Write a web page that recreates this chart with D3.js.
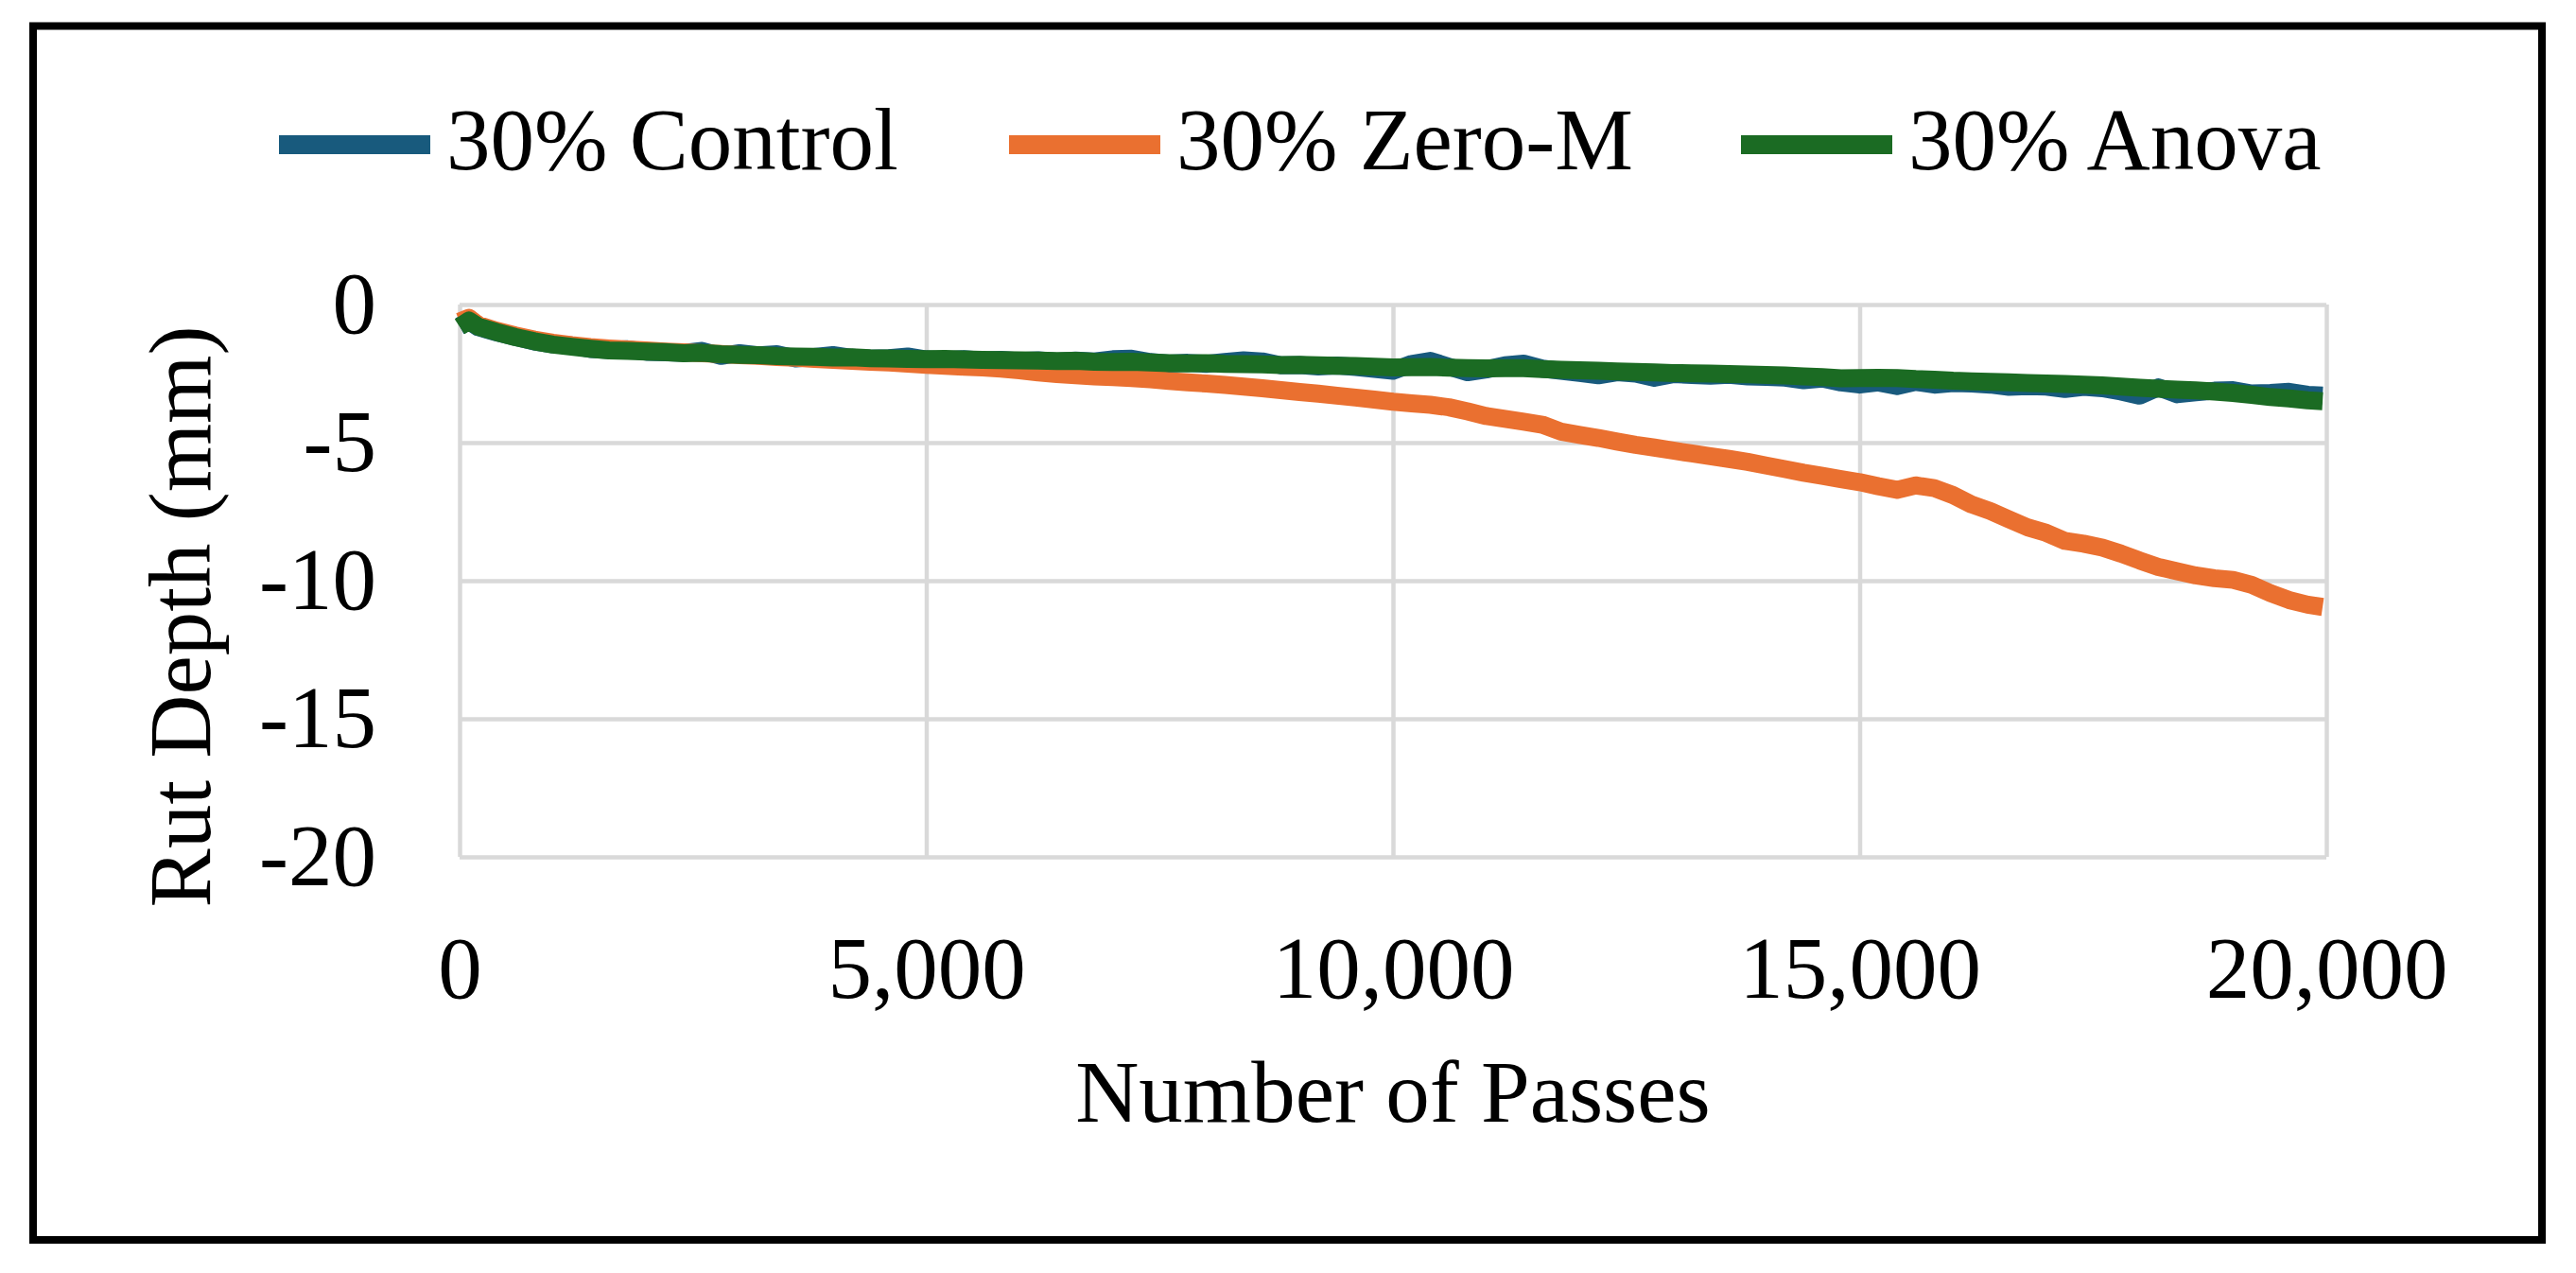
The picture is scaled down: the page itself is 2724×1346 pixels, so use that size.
<!DOCTYPE html>
<html>
<head>
<meta charset="utf-8">
<script src="https://cdn.jsdelivr.net/npm/d3@7"></script>
<style>
  body { margin: 0; background: #ffffff; }
</style>
</head>
<body>
<div id="plot"></div>
<script>
// number of passes (shared by all series)
const passes = [
  0, 100,
  200, 400, 600, 800, 1000, 1200, 1400, 1600, 1800, 2000,
  2200, 2400, 2600, 2800, 3000, 3200, 3400, 3600, 3800, 4000,
  4200, 4400, 4600, 4800, 5000, 5200, 5400, 5600, 5800, 6000,
  6200, 6400, 6600, 6800, 7000, 7200, 7400, 7600, 7800, 8000,
  8200, 8400, 8600, 8800, 9000, 9200, 9400, 9600, 9800, 10000,
  10200, 10400, 10600, 10800, 11000, 11200, 11400, 11600, 11800, 12000,
  12200, 12400, 12600, 12800, 13000, 13200, 13400, 13600, 13800, 14000,
  14200, 14400, 14600, 14800, 15000, 15200, 15400, 15600, 15800, 16000,
  16200, 16400, 16600, 16800, 17000, 17200, 17400, 17600, 17800, 18000,
  18200, 18400, 18600, 18800, 19000, 19200, 19400, 19600, 19800,
  19960
]

// rut depth (mm)
const control = [
  -0.78, -0.60,
  -0.82, -1.01, -1.17, -1.34, -1.44, -1.48, -1.61, -1.64, -1.62, -1.71,
  -1.73, -1.75, -1.68, -1.86, -1.76, -1.84, -1.80, -1.95, -1.90, -1.83,
  -1.93, -1.96, -1.94, -1.88, -1.99, -2.02, -1.98, -2.03, -2.00, -2.05,
  -2.02, -2.07, -2.03, -2.06, -1.98, -1.96, -2.08, -2.14, -2.11, -2.15,
  -2.08, -2.02, -2.06, -2.20, -2.19, -2.24, -2.21, -2.26, -2.33, -2.40,
  -2.15, -2.04, -2.25, -2.45, -2.35, -2.20, -2.14, -2.32, -2.40, -2.48,
  -2.56, -2.45, -2.50, -2.65, -2.52, -2.55, -2.58, -2.54, -2.60, -2.62,
  -2.65, -2.74, -2.68, -2.82, -2.90, -2.82, -2.95, -2.80, -2.90, -2.84,
  -2.86, -2.90, -2.98, -2.95, -2.97, -3.06, -2.98, -3.03, -3.15, -3.30,
  -3.00, -3.25, -3.18, -3.12, -3.10, -3.22, -3.20, -3.16, -3.27,
  -3.30
]

const zeroM = [
  -0.62, -0.48,
  -0.74, -0.95, -1.12, -1.27, -1.38, -1.47, -1.54, -1.59, -1.63, -1.66,
  -1.70, -1.73, -1.76, -1.79, -1.83, -1.86, -1.90, -1.93, -1.97, -2.00,
  -2.04, -2.07, -2.10, -2.14, -2.18, -2.22, -2.25, -2.28, -2.32, -2.38,
  -2.46, -2.52, -2.56, -2.60, -2.63, -2.66, -2.71, -2.77, -2.82, -2.86,
  -2.91, -2.97, -3.03, -3.10, -3.17, -3.23, -3.30, -3.37, -3.44, -3.52,
  -3.58, -3.63, -3.72, -3.87, -4.04, -4.14, -4.24, -4.35, -4.60, -4.72,
  -4.83, -4.96, -5.08, -5.18, -5.29, -5.39, -5.49, -5.59, -5.70, -5.83,
  -5.96, -6.09, -6.20, -6.32, -6.43, -6.58, -6.71, -6.55, -6.65, -6.90,
  -7.24, -7.48, -7.78, -8.07, -8.27, -8.56, -8.66, -8.80, -9.02, -9.27,
  -9.50, -9.66, -9.81, -9.91, -9.97, -10.15, -10.45, -10.70, -10.87,
  -10.95
]

const anova = [
  -0.80, -0.58,
  -0.80, -1.00, -1.18, -1.33, -1.45, -1.53, -1.60, -1.66, -1.68, -1.70,
  -1.72, -1.76, -1.75, -1.80, -1.82, -1.83, -1.87, -1.88, -1.89, -1.92,
  -1.91, -1.94, -1.95, -1.97, -1.98, -1.97, -1.99, -2.00, -2.01, -2.02,
  -2.03, -2.05, -2.04, -2.07, -2.08, -2.07, -2.10, -2.12, -2.13, -2.12,
  -2.15, -2.16, -2.17, -2.19, -2.18, -2.20, -2.22, -2.23, -2.25, -2.28,
  -2.27, -2.26, -2.29, -2.30, -2.31, -2.30, -2.30, -2.34, -2.36, -2.38,
  -2.40, -2.42, -2.44, -2.46, -2.48, -2.49, -2.50, -2.52, -2.53, -2.55,
  -2.57, -2.60, -2.63, -2.67, -2.66, -2.65, -2.66, -2.70, -2.72, -2.76,
  -2.78, -2.80, -2.82, -2.84, -2.86, -2.88, -2.90, -2.93, -2.97, -3.01,
  -3.05, -3.08, -3.11, -3.15, -3.20, -3.27, -3.35, -3.40, -3.47,
  -3.50
]

const seriesNames = ['30% Control', '30% Zero-M', '30% Anova']
const seriesColors = ['#185a7d', '#ea7030', '#1b6b23']
const xTicks = [0, 5000, 10000, 15000, 20000]
const yTicks = [0, -5, -10, -15, -20]

class RutDepthChart {

    constructor() {
        this.width = 2724
        this.height = 1346
        this.left = 486
        this.top = 322
        this.plotW = 1974
        this.plotH = 584
        this.font = "'Liberation Serif', 'Times New Roman', serif"
        this.svg = d3.select('#plot')
            .append('svg')
            .attr('width', this.width)
            .attr('height', this.height)
        this.svg.append('rect')
            .attr('width', this.width)
            .attr('height', this.height)
            .attr('fill', '#ffffff')
    }

    draw() {
        let x = d3.scaleLinear().domain([0, 20000]).range([this.left, this.left + this.plotW])
        let y = d3.scaleLinear().domain([-20, 0]).range([this.top + this.plotH, this.top])

        // gridlines
        let gy = this.svg.append('g')
            .attr('transform', 'translate(' + this.left + ',0)')
            .call(d3.axisLeft(y).tickValues(yTicks).tickSize(-this.plotW).tickFormat(''))
        let gx = this.svg.append('g')
            .attr('transform', 'translate(0,' + (this.top + this.plotH) + ')')
            .call(d3.axisBottom(x).tickValues(xTicks).tickSize(-this.plotH).tickFormat(''))
        for (let g of [gy, gx]) {
            g.select('.domain').remove()
            g.selectAll('line').attr('stroke', '#d9d9d9').attr('stroke-width', 4.5)
        }

        // tick labels
        let ly = this.svg.append('g')
            .attr('transform', 'translate(' + this.left + ',0)')
            .call(d3.axisLeft(y).tickValues(yTicks).tickSize(0).tickPadding(88).tickFormat(d => String(d)))
        let lx = this.svg.append('g')
            .attr('transform', 'translate(0,' + (this.top + this.plotH) + ')')
            .call(d3.axisBottom(x).tickValues(xTicks).tickSize(0).tickPadding(83).tickFormat(d3.format(',')))
        for (let g of [ly, lx]) {
            g.select('.domain').remove()
            g.attr('font-family', this.font).attr('font-size', 93)
            g.selectAll('text').attr('fill', '#000000')
        }

        // series lines
        let series = [control, zeroM, anova]
        let line = d3.line()
            .x((d, i) => x(passes[i]))
            .y(d => y(d))
        this.svg.selectAll('path.series')
            .data(series)
            .enter()
            .append('path')
            .attr('class', 'series')
            .attr('d', d => line(d))
            .attr('fill', 'none')
            .attr('stroke', (d, i) => seriesColors[i])
            .attr('stroke-width', 19)
            .attr('stroke-linejoin', 'round')

        // axis titles
        this.svg.append('text')
            .attr('x', this.left + this.plotW / 2)
            .attr('y', 1186)
            .attr('text-anchor', 'middle')
            .attr('font-family', this.font)
            .attr('font-size', 93)
            .text('Number of Passes')
        this.svg.append('text')
            .attr('transform', 'translate(222,652) rotate(-90)')
            .attr('text-anchor', 'middle')
            .attr('font-family', this.font)
            .attr('font-size', 93)
            .text('Rut Depth (mm)')

        // legend
        let legendX = [295, 1067, 1841]
        let legend = this.svg.selectAll('g.legend')
            .data(seriesNames)
            .enter()
            .append('g')
            .attr('class', 'legend')
            .attr('transform', (d, i) => 'translate(' + legendX[i] + ',153)')
        legend.append('line')
            .attr('x1', 0).attr('x2', 160)
            .attr('stroke', (d, i) => seriesColors[i])
            .attr('stroke-width', 20)
        legend.append('text')
            .attr('x', 177)
            .attr('y', 26)
            .attr('font-family', this.font)
            .attr('font-size', 93)
            .text(d => d)

        // outer frame
        this.svg.append('rect')
            .attr('x', 35)
            .attr('y', 27.5)
            .attr('width', 2653)
            .attr('height', 1283.5)
            .attr('fill', 'none')
            .attr('stroke', '#000000')
            .attr('stroke-width', 8)
    }
}

new RutDepthChart().draw()
</script>
</body>
</html>
